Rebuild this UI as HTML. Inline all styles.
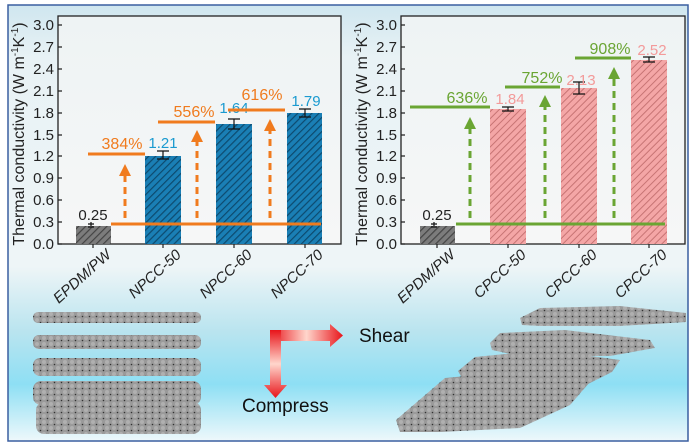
<!DOCTYPE html>
<html><head><meta charset="utf-8"><style>
html,body{margin:0;padding:0;background:#fff;}
svg{display:block;font-family:"Liberation Sans",sans-serif;}
</style></head><body>
<svg width="697" height="446" viewBox="0 0 697 446" xmlns="http://www.w3.org/2000/svg">
<defs>
<linearGradient id="bg" x1="0" y1="0" x2="0" y2="1">
<stop offset="0" stop-color="#cfe6ef"/>
<stop offset="0.12" stop-color="#e8f2f5"/>
<stop offset="0.6" stop-color="#eef5f7"/>
<stop offset="0.75" stop-color="#b9e4ef"/>
<stop offset="0.87" stop-color="#8edff4"/>
<stop offset="1" stop-color="#eef8fb"/>
</linearGradient>
<linearGradient id="pa" x1="0" y1="0" x2="0" y2="1">
<stop offset="0" stop-color="#eef3f4"/><stop offset="1" stop-color="#f6f7f7"/>
</linearGradient>
<pattern id="hb" width="5" height="5" patternUnits="userSpaceOnUse" patternTransform="rotate(45)">
<rect width="5" height="5" fill="#1a7fb5"/><rect width="1.2" height="5" fill="#0d4a6e"/></pattern>
<pattern id="hr" width="5" height="5" patternUnits="userSpaceOnUse" patternTransform="rotate(45)">
<rect width="5" height="5" fill="#f4a6a6"/><rect width="1" height="5" fill="#c77474"/></pattern>
<pattern id="hg" width="5" height="5" patternUnits="userSpaceOnUse" patternTransform="rotate(45)">
<rect width="5" height="5" fill="#7c7c7c"/><rect width="1.2" height="5" fill="#444"/></pattern>
<pattern id="gr" width="7" height="6" patternUnits="userSpaceOnUse">
<rect width="7" height="6" fill="#9a9a9a"/><circle cx="2" cy="2" r="2" fill="#b0b0b0"/><circle cx="5.5" cy="4.5" r="0.8" fill="#333"/></pattern>
<linearGradient id="ah" x1="0" y1="0" x2="1" y2="0"><stop offset="0" stop-color="#e8141a"/><stop offset="0.5" stop-color="#ffd6cc"/><stop offset="1" stop-color="#e8141a"/></linearGradient>
<linearGradient id="av" x1="0" y1="0" x2="0" y2="1"><stop offset="0" stop-color="#e8141a"/><stop offset="0.5" stop-color="#ffd6cc"/><stop offset="1" stop-color="#e8141a"/></linearGradient>
</defs>
<rect x="8" y="5" width="680" height="436" fill="url(#bg)" stroke="#3a5fa0" stroke-width="1.5"/>

<!-- LEFT CHART -->
<rect x="58" y="16" width="283" height="228" fill="url(#pa)" stroke="#222" stroke-width="1.3"/>
<g fill="#222" font-size="15" text-anchor="end">
<text x="54" y="249">0.0</text><text x="54" y="227">0.3</text><text x="54" y="205">0.6</text><text x="54" y="183">0.9</text><text x="54" y="161">1.2</text><text x="54" y="140">1.5</text><text x="54" y="118">1.8</text><text x="54" y="96">2.1</text><text x="54" y="74">2.4</text><text x="54" y="52">2.7</text><text x="54" y="30">3.0</text>
</g>
<path d="M58 244h4M58 222h4M58 200h4M58 178h4M58 156h4M58 135h4M58 113h4M58 91h4M58 69h4M58 47h4M58 25h4M93 244v4M163 244v4M234 244v4M305 244v4" stroke="#222" stroke-width="1.2"/>
<text transform="translate(24,134) rotate(-90)" font-size="16" text-anchor="middle" fill="#222">Thermal conductivity (W m<tspan font-size="10" dy="-6">-1</tspan><tspan dy="6">K</tspan><tspan font-size="10" dy="-6">-1</tspan><tspan dy="6">)</tspan></text>
<rect x="76" y="226" width="35" height="18" fill="url(#hg)"/>
<rect x="145" y="156" width="36" height="88" fill="url(#hb)"/>
<rect x="216" y="124" width="36" height="120" fill="url(#hb)"/>
<rect x="287" y="113" width="35" height="131" fill="url(#hb)"/>
<path d="M88 224h6M91 222v4M88 227h6M157 151h12M163 151v8M157 159h12M228 119h12M234 119v10M228 129h12M299 109h12M305 109v8M299 117h12" stroke="#111" stroke-width="1.2" fill="none"/>
<g font-size="15" fill="#222" text-anchor="middle"><text x="93" y="220">0.25</text></g>
<g font-size="15" fill="#1a9ad0" text-anchor="middle"><text x="163" y="148">1.21</text><text x="234" y="113">1.64</text><text x="306" y="106">1.79</text></g>
<g stroke="#f07b1e" stroke-width="3"><path d="M111 224H321M88 154H145M158 122H215M228 110H285"/>
<path d="M125 218V172M197 218V138M270 218V127" stroke-dasharray="7,5"/></g>
<g fill="#f07b1e"><path d="M119 176h12l-6-12z"/><path d="M191 142h12l-6-12z"/><path d="M264 131h12l-6-12z"/></g>
<g font-size="16" fill="#f07b1e" text-anchor="middle"><text x="122" y="149">384%</text><text x="194" y="117">556%</text><text x="262" y="100">616%</text></g>
<g font-size="15" font-style="italic" fill="#222" text-anchor="end">
<text transform="translate(112,256) rotate(-42)">EPDM/PW</text>
<text transform="translate(182,256) rotate(-42)">NPCC-50</text>
<text transform="translate(253,256) rotate(-42)">NPCC-60</text>
<text transform="translate(324,256) rotate(-42)">NPCC-70</text>
</g>

<!-- RIGHT CHART -->
<rect x="401" y="16" width="284" height="228" fill="url(#pa)" stroke="#222" stroke-width="1.3"/>
<g fill="#222" font-size="15" text-anchor="end">
<text x="397" y="249">0.0</text><text x="397" y="227">0.3</text><text x="397" y="205">0.6</text><text x="397" y="183">0.9</text><text x="397" y="161">1.2</text><text x="397" y="140">1.5</text><text x="397" y="118">1.8</text><text x="397" y="96">2.1</text><text x="397" y="74">2.4</text><text x="397" y="52">2.7</text><text x="397" y="30">3.0</text>
</g>
<path d="M401 244h4M401 222h4M401 200h4M401 178h4M401 156h4M401 135h4M401 113h4M401 91h4M401 69h4M401 47h4M401 25h4M437 244v4M508 244v4M579 244v4M649 244v4" stroke="#222" stroke-width="1.2"/>
<text transform="translate(367,134) rotate(-90)" font-size="16" text-anchor="middle" fill="#222">Thermal conductivity (W m<tspan font-size="10" dy="-6">-1</tspan><tspan dy="6">K</tspan><tspan font-size="10" dy="-6">-1</tspan><tspan dy="6">)</tspan></text>
<rect x="420" y="226" width="35" height="18" fill="url(#hg)"/>
<rect x="490" y="109" width="36" height="135" fill="url(#hr)"/>
<rect x="561" y="88" width="36" height="156" fill="url(#hr)"/>
<rect x="631" y="60" width="36" height="184" fill="url(#hr)"/>
<path d="M431 224h6M434 222v4M431 227h6M502 107h12M508 107v4M502 111h12M573 82h12M579 82v12M573 94h12M643 57h12M649 57v5M643 62h12" stroke="#111" stroke-width="1.2" fill="none"/>
<g font-size="15" fill="#222" text-anchor="middle"><text x="437" y="220">0.25</text></g>
<g font-size="15" fill="#f39a9a" text-anchor="middle"><text x="510" y="104">1.84</text><text x="581" y="85">2.13</text><text x="652" y="55">2.52</text></g>
<g stroke="#6aa533" stroke-width="3"><path d="M456 224H665M410 107H490M505 87H560M575 58H631"/>
<path d="M470 218V126M545 218V104M614 218V76" stroke-dasharray="7,5"/></g>
<g fill="#6aa533"><path d="M464 129h12l-6-12z"/><path d="M539 107h12l-6-12z"/><path d="M608 79h12l-6-12z"/></g>
<g font-size="16" fill="#6aa533" text-anchor="middle"><text x="467" y="103">636%</text><text x="542" y="83">752%</text><text x="610" y="54">908%</text></g>
<g font-size="15" font-style="italic" fill="#222" text-anchor="end">
<text transform="translate(456,256) rotate(-42)">EPDM/PW</text>
<text transform="translate(527,256) rotate(-42)">CPCC-50</text>
<text transform="translate(598,256) rotate(-42)">CPCC-60</text>
<text transform="translate(668,256) rotate(-42)">CPCC-70</text>
</g>

<!-- arrows -->
<path d="M270 330H330V324L343 335.5L330 347V341H270Z" fill="url(#ah)"/>
<path d="M270 330H281V385H287L275.5 398L264 385H270Z" fill="url(#av)"/>
<text x="359" y="342" font-size="19" fill="#111">Shear</text>
<text x="242" y="412" font-size="19" fill="#111">Compress</text>

<!-- left stack -->
<g fill="url(#gr)">
<rect x="33" y="312" width="168" height="11" rx="5"/>
<rect x="33" y="335" width="168" height="14" rx="6"/>
<rect x="33" y="358" width="168" height="18" rx="7"/>
<rect x="33" y="381" width="168" height="24" rx="8"/>
<rect x="36" y="402" width="165" height="32" rx="8"/>
</g>
<!-- right stack -->
<g fill="url(#gr)">
<polygon points="520,318 540,308 620,306 686,313 686,322 620,326 540,326 522,325"/>
<polygon points="490,343 500,333 565,330 650,340 655,348 610,356 520,356 492,350"/>
<polygon points="458,371 475,357 545,350 620,360 612,372 560,398 470,392"/>
<polygon points="396,420 445,378 530,370 590,382 570,405 520,428 440,432 400,432"/>
</g>
</svg>
</body></html>
